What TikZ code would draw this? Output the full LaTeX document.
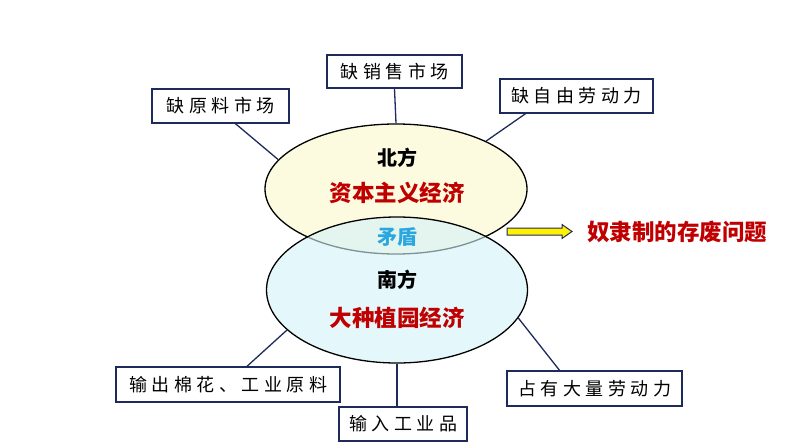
\documentclass[tikz,border=0pt]{standalone}
\usepackage{fontspec}
\usepackage{xcolor}
\usepackage{tikz}
\usetikzlibrary{shapes.geometric}
\setmainfont{Noto Sans CJK SC}
\newfontfamily\boxfont[LetterSpace=25]{Noto Sans CJK SC}
\definecolor{navy}{HTML}{1F2A5C}
\definecolor{deepred}{HTML}{C00000}
\definecolor{skyblue}{HTML}{2AA7E0}
\definecolor{northfill}{HTML}{FDFBDF}
\definecolor{southfill}{HTML}{D2F2F8}
\tikzset{
  tagbox/.style={draw=navy, line width=1.4pt, fill=white, inner sep=0pt,
    font=\boxfont\fontsize{18pt}{20pt}\selectfont},
  link/.style={draw=navy, line width=1.3pt},
  region/.style={ellipse, draw=black, line width=1.3pt, inner sep=0pt},
  side/.style={font=\bfseries\fontsize{20pt}{24pt}\selectfont},
  econ/.style={text=deepred, font=\bfseries\fontsize{22.5pt}{26pt}\selectfont},
}

\begin{document}
\begin{tikzpicture}[x=1pt, y=-1pt]
  \useasboundingbox (0,0) rectangle (794,447);
  % two economies
  \node[region, fill=northfill, minimum width=262pt, minimum height=130pt] (north) at (396,189) {};
  \node[region, fill=southfill, fill opacity=0.6, minimum width=261pt, minimum height=146pt] (south) at (397,290) {};
  \node[side] (northname) at (397,158) {北方};
  \node[econ] (northecon) at (397,193) {资本主义经济};
  \node[side, text=skyblue] (conflict) at (397,237) {矛盾};
  \node[side] (southname) at (397,280) {南方};
  \node[econ] (southecon) at (397,318) {大种植园经济};
  % features
  \node[tagbox, minimum width=137pt, minimum height=34pt] (b1) at (220.5,106) {缺原料市场};
  \node[tagbox, minimum width=135pt, minimum height=33pt] (b2) at (394.5,71.5) {缺销售市场};
  \node[tagbox, minimum width=153pt, minimum height=34pt] (b3) at (576.5,96) {缺自由劳动力};
  \node[tagbox, minimum width=224pt, minimum height=35pt] (b4) at (228,384.5) {输出棉花、工业原料};
  \node[tagbox, minimum width=128pt, minimum height=34pt] (b5) at (403,424) {输入工业品};
  \node[tagbox, minimum width=175pt, minimum height=35pt] (b6) at (594.5,388.5) {占有大量劳动力};
  \draw[link] ([xshift=15pt]b1.south) -- (north.166);
  \draw[link] (b2.south) -- (north.90);
  \draw[link] ([xshift=-51pt]b3.south) -- (north.28);
  \draw[link] ([xshift=19pt]b4.north) -- (south.200);
  \draw[link] (south.270) -- (south.270 |- b5.north);
  \draw[link] ([xshift=-35pt]b6.north) -- (south.347);
  % result
  \node[econ] (issue) at (677,232) {奴隶制的存废问题};
  \draw[draw=navy, fill=yellow, line width=1pt]
    (507,228) -- (562,228) -- (562,224.5) -- (572,231.5) -- (562,238.5) -- (562,235) -- (507,235) -- cycle;
\end{tikzpicture}
\end{document}
